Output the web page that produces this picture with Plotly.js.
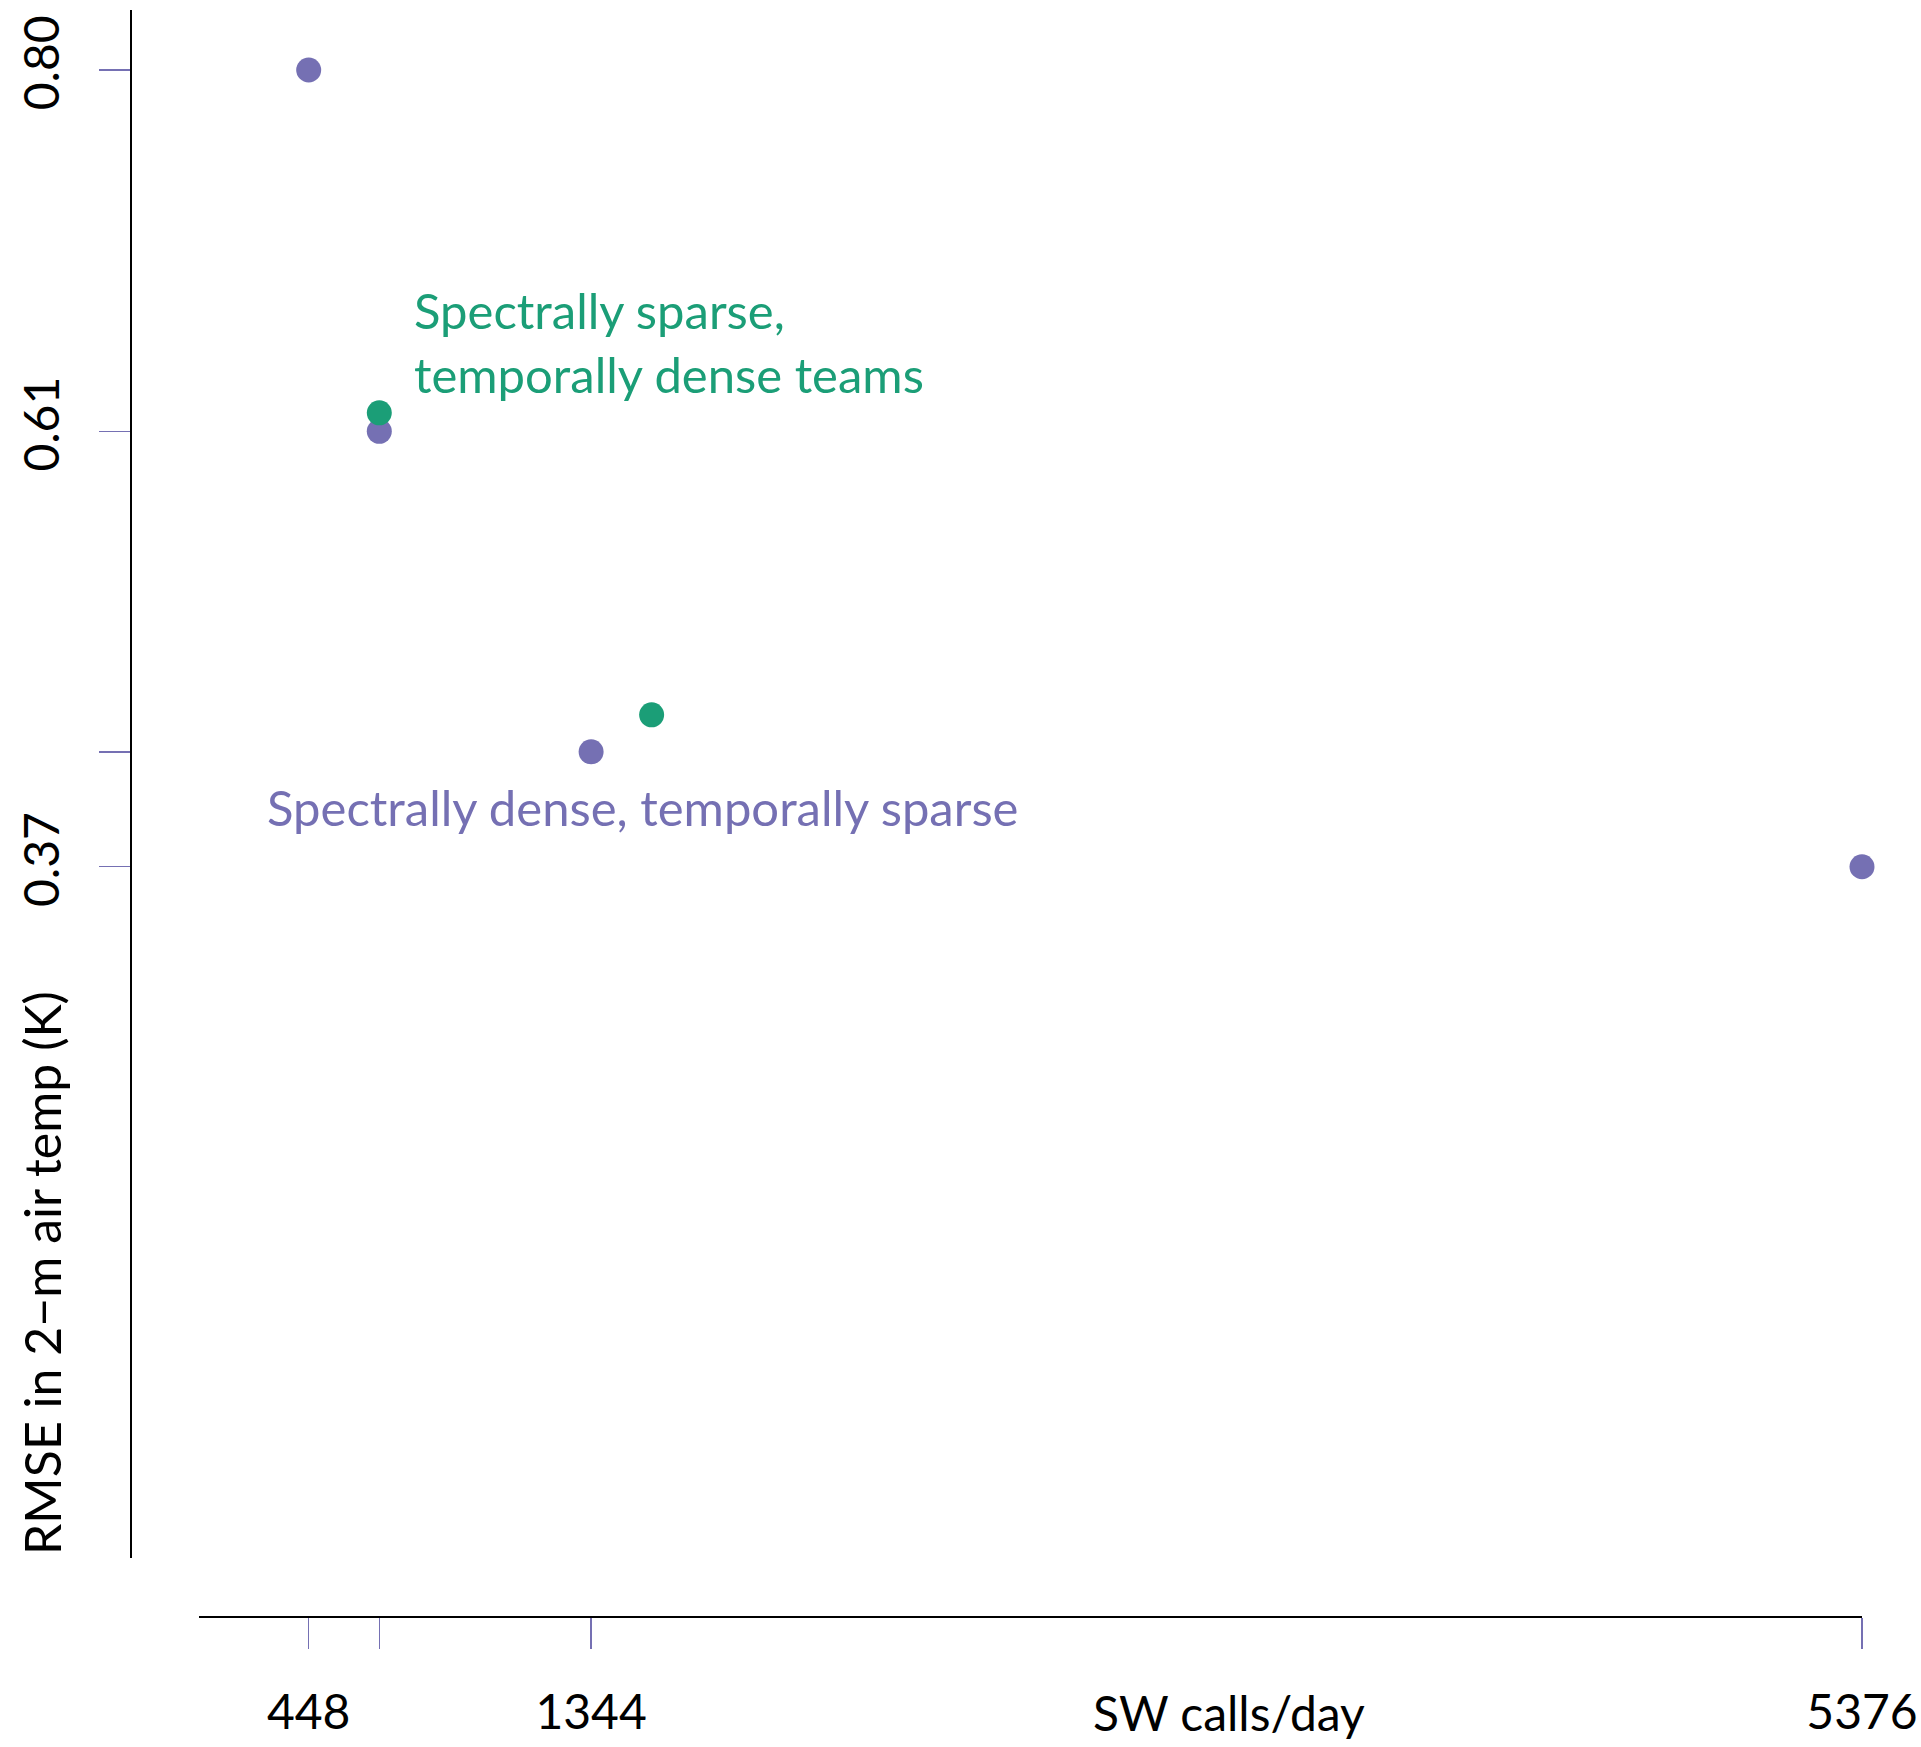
<!DOCTYPE html>
<html>
<head>
<meta charset="utf-8">
<script src="https://cdn.plot.ly/plotly-3.0.1.min.js"></script>
<style>html,body{margin:0;padding:0;background:#fff;}#chart{width:1921px;height:1747px;}</style>
</head>
<body>
<div id="chart"></div>
<script>
// Data
const purpleX = [448, 672, 1344, 5376];
const purpleY = [0.800, 0.605, 0.432, 0.370];
const greenX = [672, 1536];
const greenY = [0.615, 0.452];
const xTickLabels = ["448", "", "1344", "5376"];
const yTickLabels = ["0.80", "0.61", "", "0.37"];

const PURPLE = "#7570B3";
const GREEN = "#1B9E77";
const FONT = "Lato, 'Open Sans', sans-serif";
const FS = 48;
const FA = 49;

const W = 1921, H = 1747;
const mL = 131, mR = 59, mT = 10, mB = 130;
const plotW = W - mL - mR, plotH = H - mT - mB;
const px = v => (v - mL) / plotW;           // pixel x -> paper
const py = v => (H - mB - v) / plotH;       // pixel y -> paper

const traces = [
  {x: purpleX, y: purpleY, type: "scatter", mode: "markers", cliponaxis: false,
   marker: {color: PURPLE, size: 25}, showlegend: false, hoverinfo: "skip"},
  {x: greenX, y: greenY, type: "scatter", mode: "markers", cliponaxis: false,
   marker: {color: GREEN, size: 25}, showlegend: false, hoverinfo: "skip"}
];

const layout = {
  width: W, height: H,
  margin: {l: mL, r: mR, t: mT, b: mB, pad: 0},
  paper_bgcolor: "#fff", plot_bgcolor: "#fff",
  font: {family: FONT, size: FS, color: "#000"},
  showlegend: false,
  xaxis: {
    domain: [px(198.5), 1], range: [98.4, 5376],
    anchor: "free", position: 0,
    showgrid: false, zeroline: false,
    showline: true, linecolor: "#000", linewidth: 2,
    ticks: "outside", ticklen: 31, tickwidth: 1.5, tickcolor: PURPLE,
    tickmode: "array", tickvals: purpleX, ticktext: xTickLabels,
    tickfont: {family: FONT, size: FS, color: "#000"},
    ticklabelstandoff: 22
  },
  yaxis: {
    domain: [py(1558), 1], range: [-0.0031, 0.8324],
    anchor: "free", position: 0,
    showgrid: false, zeroline: false,
    showline: true, linecolor: "#000", linewidth: 2,
    ticks: "outside", ticklen: 31, tickwidth: 1.5, tickcolor: PURPLE,
    tickmode: "array", tickvals: purpleY, ticktext: yTickLabels,
    tickangle: -90,
    tickfont: {family: FONT, size: FS, color: "#000"},
    ticklabelstandoff: 21
  },
  annotations: [
    {xref: "paper", yref: "paper", x: px(412), y: py(342), xanchor: "left", yanchor: "middle",
     align: "left", showarrow: false,
     text: "Spectrally sparse,<br>temporally dense teams",
     font: {family: FONT, size: FA, color: GREEN}},
    {xref: "paper", yref: "paper", x: px(265), y: py(807), xanchor: "left", yanchor: "middle",
     align: "left", showarrow: false,
     text: "Spectrally dense, temporally sparse",
     font: {family: FONT, size: FA, color: PURPLE}},
    {xref: "paper", yref: "paper", x: px(1229), y: py(1712), xanchor: "center", yanchor: "middle",
     showarrow: false, text: "SW calls/day",
     font: {family: FONT, size: FS, color: "#000"}},
    {xref: "paper", yref: "paper", x: px(42), y: py(1273), xanchor: "center", yanchor: "middle",
     showarrow: false, textangle: -90, text: "RMSE in 2\u2212m air temp (K)",
     font: {family: FONT, size: 50, color: "#000"}}
  ]
};

Plotly.newPlot("chart", traces, layout, {staticPlot: true, displayModeBar: false});
</script>
</body>
</html>
